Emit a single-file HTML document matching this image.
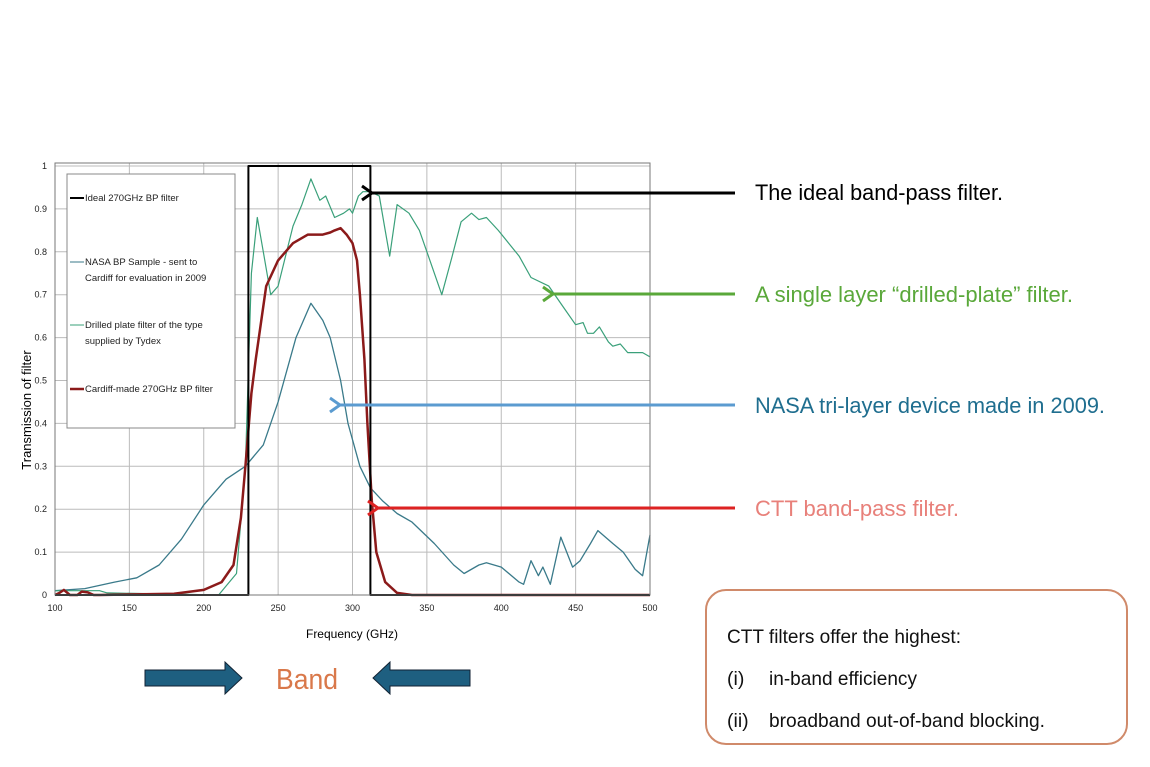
<!DOCTYPE html>
<html><head><meta charset="utf-8"><style>
body{margin:0;background:#fff;width:1150px;height:767px;overflow:hidden;font-family:"Liberation Sans",sans-serif;}
svg{position:absolute;left:0;top:0}
</style></head><body>
<svg width="1150" height="767" id="svg">
<defs>
<marker id="ah" markerUnits="userSpaceOnUse" markerWidth="16" markerHeight="18" refX="2" refY="9" orient="auto"><path d="M12,2 L2,9 L12,16" fill="none" stroke="context-stroke" stroke-width="3"/></marker>
</defs>
<g id="grid"></g>
<g id="series"></g>
<g id="axes"></g>
<rect x="67" y="174" width="168" height="254" fill="#fff" stroke="#888"/>
<g font-size="9.5" fill="#222">
<line x1="70" y1="198" x2="84" y2="198" stroke="#000" stroke-width="2"/><text x="85" y="201">Ideal 270GHz BP filter</text>
<line x1="70" y1="262" x2="84" y2="262" stroke="#3a7a8a"/><text x="85" y="265">NASA BP Sample - sent to</text><text x="85" y="281">Cardiff for evaluation in 2009</text>
<line x1="70" y1="325" x2="84" y2="325" stroke="#3aa07a"/><text x="85" y="328">Drilled plate filter of the type</text><text x="85" y="344">supplied by Tydex</text>
<line x1="70" y1="389" x2="84" y2="389" stroke="#8b1a1a" stroke-width="2.5"/><text x="85" y="392">Cardiff-made 270GHz BP filter</text>
</g>
<text x="352" y="638" font-size="12" text-anchor="middle">Frequency (GHz)</text>
<text transform="translate(31,410) rotate(-90)" font-size="13" text-anchor="middle">Transmission of filter</text>
<g stroke-width="3" fill="none">
<line x1="735" y1="193" x2="372" y2="193" stroke="#000" marker-end="url(#ah)"/>
<line x1="735" y1="294" x2="553" y2="294" stroke="#5aa83a" marker-end="url(#ah)"/>
<line x1="735" y1="405" x2="340" y2="405" stroke="#5b9bd0" marker-end="url(#ah)"/>
<line x1="735" y1="508" x2="378" y2="508" stroke="#d22" marker-end="url(#ah)"/>
</g>
<g font-size="22">
<text x="755" y="200" fill="#000" textLength="248" lengthAdjust="spacingAndGlyphs">The ideal band-pass filter.</text>
<text x="755" y="302" fill="#5aa83a" textLength="318" lengthAdjust="spacingAndGlyphs">A single layer “drilled-plate” filter.</text>
<text x="755" y="413" fill="#1f6e8f" textLength="350" lengthAdjust="spacingAndGlyphs">NASA tri-layer device made in 2009.</text>
<text x="755" y="516" fill="#e8807a" textLength="204" lengthAdjust="spacingAndGlyphs">CTT band-pass filter.</text>
</g>
<g>
<path d="M145,670 H225 V662 L242,678 L225,694 V686 H145 Z" fill="#1e5f80" stroke="#123"/>
<path d="M470,670 H390 V662 L373,678 L390,694 V686 H470 Z" fill="#1e5f80" stroke="#123"/>
<text x="307" y="689" font-size="29" fill="#d9784a" text-anchor="middle" textLength="62" lengthAdjust="spacingAndGlyphs">Band</text>
</g>
<g>
<rect x="706" y="590" width="421" height="154" rx="20" fill="#fff" stroke="#d08a6a" stroke-width="2"/>
<g font-size="19.5" fill="#111">
<text x="727" y="643" textLength="234" lengthAdjust="spacingAndGlyphs">CTT filters offer the highest:</text>
<text x="727" y="685">(i)</text><text x="769" y="685" textLength="148" lengthAdjust="spacingAndGlyphs">in-band efficiency</text>
<text x="727" y="727">(ii)</text><text x="769" y="727" textLength="276" lengthAdjust="spacingAndGlyphs">broadband out-of-band blocking.</text>
</g></g>
</svg>
<script>
const xTicks=[100,150,200,250,300,350,400,450,500];
const yTicks=[0,0.1,0.2,0.3,0.4,0.5,0.6,0.7,0.8,0.9,1];
const idealX=[100,230,230,312,312,500];
const idealY=[0,0,1,1,0,0];
const drilledX=[100,130,135,210,222,228,232,236,240,245,250,260,266,272,278,282,288,294,298,300,304,307,312,318,322,325,330,338,345,352,360,367,373,380,385,390,398,405,412,420,432,442,450,455,458,462,466,472,475,480,485,495,500];
const drilledY=[0.01,0.01,0.005,0,0.05,0.3,0.75,0.88,0.8,0.7,0.72,0.86,0.91,0.97,0.92,0.93,0.88,0.89,0.9,0.89,0.93,0.94,0.94,0.93,0.85,0.79,0.91,0.89,0.85,0.78,0.70,0.79,0.87,0.89,0.875,0.88,0.85,0.82,0.79,0.74,0.72,0.67,0.63,0.635,0.61,0.61,0.625,0.59,0.58,0.585,0.565,0.565,0.555];
const nasaX=[100,120,140,155,170,185,200,215,228,240,250,262,272,280,285,292,297,305,312,320,330,340,355,368,375,385,390,400,412,415,420,425,428,433,440,448,453,460,465,475,482,490,495,500];
const nasaY=[0.01,0.015,0.03,0.04,0.07,0.13,0.21,0.27,0.3,0.35,0.45,0.6,0.68,0.64,0.6,0.5,0.4,0.3,0.25,0.22,0.19,0.17,0.12,0.07,0.05,0.07,0.075,0.065,0.03,0.025,0.08,0.045,0.065,0.025,0.135,0.065,0.08,0.12,0.15,0.12,0.10,0.06,0.045,0.14];
const cardiffX=[100,103,106,110,115,118,122,126,130,180,200,212,220,225,228,232,235,242,250,260,270,280,285,288,292,296,300,303,305,308,310,313,316,322,330,340,500];
const cardiffY=[0,0.005,0.012,0,0,0.008,0.006,0,0,0.003,0.012,0.03,0.07,0.18,0.3,0.47,0.55,0.72,0.78,0.82,0.84,0.84,0.845,0.85,0.855,0.84,0.82,0.78,0.70,0.55,0.40,0.22,0.1,0.03,0.005,0,0];
const X0=55,X1=650,Y0=595,Y1=166;
function sx(v){return X0+(v-100)/(500-100)*(X1-X0);}
function sy(v){return Y0-v*(Y0-Y1);}
const NS='http://www.w3.org/2000/svg';
function mk(t,a,p){const e=document.createElementNS(NS,t);for(const k in a)e.setAttribute(k,a[k]);p.appendChild(e);return e;}
const grid=document.getElementById('grid'),axes=document.getElementById('axes'),ser=document.getElementById('series');
xTicks.forEach(v=>{const l=mk('line',{x1:sx(v),x2:sx(v),y1:Y1-3,y2:Y0,stroke:'#bbb'},grid);


const t=mk('text',{x:sx(v),y:Y0+16,'font-size':9,'text-anchor':'middle',fill:'#222'},axes);t.textContent=v;

});
yTicks.forEach(v=>{const l=mk('line',{x1:X0,x2:X1,y1:sy(v),y2:sy(v),stroke:'#bbb'},grid);


const t=mk('text',{x:X0-8,y:sy(v)+3,'font-size':9,'text-anchor':'end',fill:'#222'},axes);t.textContent=String(v);

});
const fr=mk('rect',{x:X0,y:Y1-3,width:X1-X0,height:Y0-Y1+3,fill:'none',stroke:'#777'},axes);


function line(xs,ys,col,w,name){const d=xs.map((x,i)=>(i?'L':'M')+sx(x).toFixed(1)+','+sy(ys[i]).toFixed(1)).join(' ');
const p=mk('path',{d:d,fill:'none',stroke:col,'stroke-width':w,'stroke-linejoin':'round'},ser);

}
line(nasaX,nasaY,'#3a7a8a',1.3,'nasa-series');
line(drilledX,drilledY,'#3aa07a',1.2,'drilled-series');
line(cardiffX,cardiffY,'#8b1a1a',2.5,'cardiff-series');
line(idealX,idealY,'#000',2,'ideal-series');
</script>
</body></html>
